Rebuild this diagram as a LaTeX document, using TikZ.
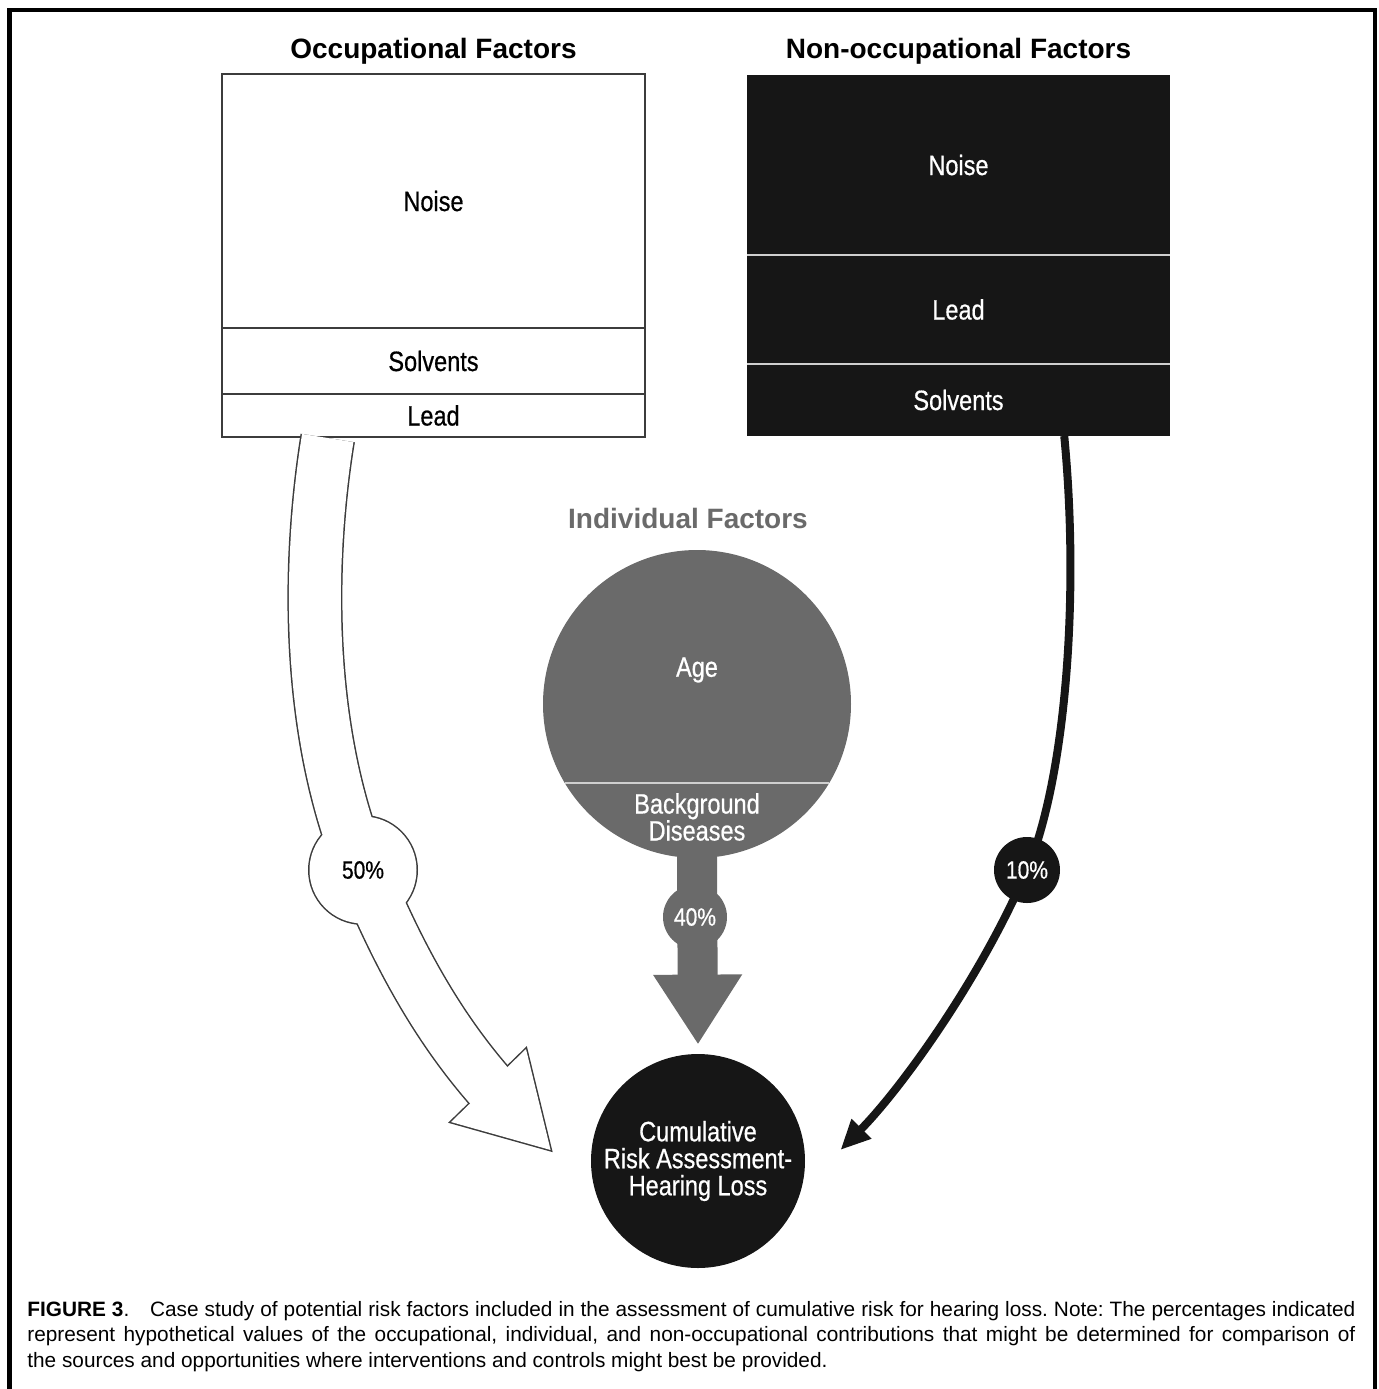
\documentclass[tikz,border=0pt]{standalone}
\usepackage{fontspec}
\setmainfont{Liberation Sans}
\newfontfamily\narrowfont[FakeStretch=0.84,FakeBold=0.6]{Liberation Sans}
\usetikzlibrary{positioning,calc,arrows.meta}

\definecolor{inkblack}{HTML}{161616}
\definecolor{indgray}{HTML}{6A6A6A}
\definecolor{rulegray}{HTML}{3C3C3C}
\definecolor{splitgray}{HTML}{CFCFCF}

\tikzset{
  factor title/.style={anchor=base, font=\bfseries\fontsize{14}{16}\selectfont},
  blurb/.style={font=\narrowfont\fontsize{14}{13.5}\selectfont},
  occ part/.style={blurb, draw=rulegray, line width=1pt, fill=white, minimum width=211.5pt, inner sep=0pt, outer sep=0pt},
  non part/.style={blurb, fill=inkblack, text=white, minimum width=211.5pt, inner sep=0pt, outer sep=0pt},
  split/.style={draw=splitgray, line width=1pt},
  pct/.style={circle, inner sep=0pt, outer sep=0pt, font=\narrowfont\fontsize{12.5}{14}\selectfont}
}

\begin{document}
\begin{tikzpicture}[x=0.5pt, y=-0.5pt]
\useasboundingbox (0,0) rectangle (1379,1389);
\draw[line width=2.25pt] (9.5,1400) |- (1375,10) -- (1375,1400);

\node[factor title] (occtitle) at (433.5,58) {Occupational Factors};
\node[occ part, minimum height=127pt] (noiseO) at (433.5,201) {Noise};
\node[occ part, minimum height=33pt, below=0pt of noiseO] (solventsO) {Solvents};
\node[occ part, minimum height=21.5pt, below=0pt of solventsO] (leadO) {Lead};

\node[factor title] (nontitle) at (958.5,58) {Non-occupational Factors};
\node[non part, minimum height=90pt] (noiseN) at (958.5,165) {Noise};
\node[non part, minimum height=54.5pt, below=0pt of noiseN] (leadN) {Lead};
\node[non part, minimum height=36pt, below=0pt of leadN] (solventsN) {Solvents};
\draw[split] (noiseN.south west) -- (noiseN.south east);
\draw[split] (leadN.south west) -- (leadN.south east);

\node[factor title, text=indgray] (indtitle) at (688,528) {Individual Factors};
\node[circle, fill=indgray, minimum size=154pt, inner sep=0pt, outer sep=0pt] (indiv) at (697,704) {};
\draw[split] (indiv.-149) -- (indiv.-31);
\node[blurb, text=white] (age) at (697,670) {Age};
\node[blurb, text=white, align=center] (disease) at (697,817) {Background\\Diseases};

\node[blurb, circle, fill=inkblack, text=white, minimum size=107pt, inner sep=0pt, align=center] (cra) at (698,1161) {Cumulative\\Risk Assessment-\\Hearing Loss};

% individual share
\coordinate (indtip) at ([yshift=4.5pt]cra.north);
\draw[indgray, line width=20pt, -{Triangle[length=35pt,width=42pt]}] ([yshift=3pt]indiv.south) -- (indtip);
\node[pct, fill=indgray, text=white, minimum size=32pt] (pctind) at (695,917) {40\%};

% non-occupational share
\coordinate (nonstart) at ($(solventsN.south)!0.5!(solventsN.south east)$);
\coordinate (nonmid) at (1027,870);
\coordinate (nontip) at ([shift={(17.5pt,5.5pt)}]cra.east);
\draw[inkblack, line width=4pt, -{Triangle[length=15pt,width=13pt]}] (nonstart) .. controls (1080,600) and (1065,780) .. (nonmid) .. controls (980,980) and (900,1090) .. (nontip);
\node[pct, fill=inkblack, text=white, minimum size=33pt] (pctnon) at (nonmid) {10\%};

% occupational share, outline first then white body
\coordinate (occstart) at ([yshift=-0.5pt]$(leadO.south west)!0.5!(leadO.south)$);
\coordinate (occmid) at (363,870);
\coordinate (occbase) at (492,1089);
\coordinate (occtip) at ([shift={(-20pt,5.5pt)}]cra.west);
\coordinate (barbL) at (451,1122);
\coordinate (barbR) at (526,1049);
\draw[rulegray, line width=27.5pt] (occstart) .. controls (308,560) and (305,730) .. (occmid) .. controls (400,960) and (440,1030) .. (occbase);
\filldraw[rulegray, line width=1.5pt] (occmid) circle[radius=26.75pt];
\filldraw[rulegray, line width=1.5pt, line join=miter] (barbL) -- (occtip) -- (barbR) -- cycle;
\draw[white, line width=26pt] (occstart) .. controls (308,560) and (305,730) .. (occmid) .. controls (400,960) and (440,1030) .. (occbase);
\fill[white] (occmid) circle[radius=26.75pt];
\fill[white] (barbL) -- (occtip) -- (barbR) -- cycle;
\node[pct] (pctocc) at (occmid) {50\%};

\node[anchor=north west, inner sep=0pt, text width=664pt, align=justify, font=\fontsize{10.4}{12.75}\selectfont] (caption) at (27,1301)
  {\frenchspacing\hyphenpenalty=10000 \textbf{FIGURE 3}.\quad Case study of potential risk factors included in the assessment of cumulative risk for hearing loss. Note: The percentages indicated represent hypothetical values of the occupational, individual, and non-occupational contributions that might be determined for comparison of\linebreak{} the sources and opportunities where interventions and controls might best be provided.};
\end{tikzpicture}
\end{document}
